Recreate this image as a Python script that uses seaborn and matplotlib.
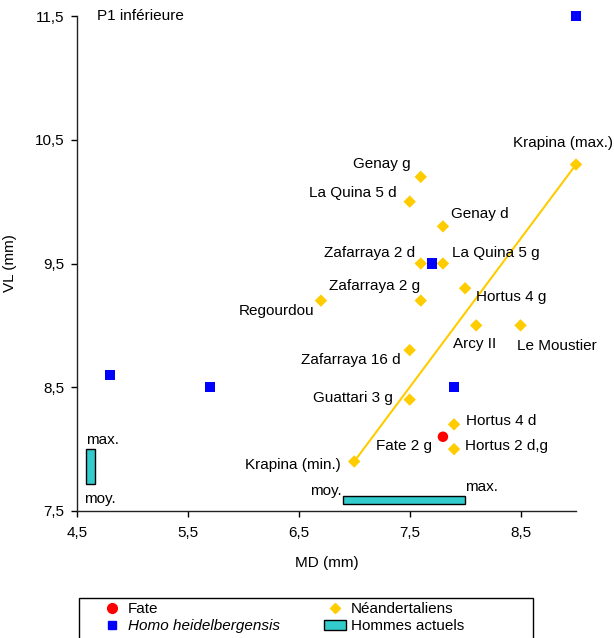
import matplotlib
matplotlib.use("Agg")
import matplotlib.pyplot as plt
import seaborn as sns
import pandas as pd
from matplotlib.lines import Line2D
from matplotlib.patches import Patch, Rectangle

# Néandertaliens
nea_labels = ['Genay g', 'La Quina 5 d', 'Genay d', 'Zafarraya 2 d', 'La Quina 5 g',
              'Hortus 4 g', 'Zafarraya 2 g', 'Regourdou', 'Arcy II', 'Le Moustier',
              'Zafarraya 16 d', 'Guattari 3 g', 'Hortus 4 d', 'Hortus 2 d,g',
              'Krapina (min.)', 'Krapina (max.)']
nea_md = [7.6, 7.5, 7.8, 7.6, 7.8, 8.0, 7.6, 6.7, 8.1, 8.5, 7.5, 7.5, 7.9, 7.9, 7.0, 9.0]
nea_vl = [10.2, 10.0, 9.8, 9.5, 9.5, 9.3, 9.2, 9.2, 9.0, 9.0, 8.8, 8.4, 8.2, 8.0, 7.9, 10.3]

# Fate
fate_label = ['Fate 2 g']
fate_md = [7.8]
fate_vl = [8.1]

# Homo heidelbergensis
hh_md = [9.0, 4.8, 5.7, 7.7, 7.9]
hh_vl = [11.5, 8.6, 8.5, 9.5, 8.5]

# Hommes actuels (moy., max.)
ha_md = [6.9, 8.0]
ha_vl = [7.72, 8.0]

x_ticks = [4.5, 5.5, 6.5, 7.5, 8.5]
x_ticklabels = ['4,5', '5,5', '6,5', '7,5', '8,5']
y_ticks = [7.5, 8.5, 9.5, 10.5, 11.5]
y_ticklabels = ['7,5', '8,5', '9,5', '10,5', '11,5']

# label offsets in pixels (dx, dy up, ha)
offsets = {
    'Genay g': (-10, 13, 'right'),
    'La Quina 5 d': (-13, 9, 'right'),
    'Genay d': (8, 12, 'left'),
    'Zafarraya 2 d': (-6, 10, 'right'),
    'La Quina 5 g': (9, 10, 'left'),
    'Hortus 4 g': (11, -9, 'left'),
    'Zafarraya 2 g': (-1, 15, 'right'),
    'Regourdou': (-7, -10, 'right'),
    'Arcy II': (-2, -19, 'center'),
    'Le Moustier': (-4, -21, 'left'),
    'Zafarraya 16 d': (-9, -10, 'right'),
    'Guattari 3 g': (-17, 2, 'right'),
    'Hortus 4 d': (12, 3, 'left'),
    'Hortus 2 d,g': (11, 3, 'left'),
    'Krapina (min.)': (-13, -4, 'right'),
    'Krapina (max.)': (-13, 21, 'center'),
    'Fate 2 g': (-11, -9, 'right'),
}

YELLOW = '#FFCC00'
BLUE = '#0000FF'
RED = '#FF0000'
TEAL = '#33CCCC'
FS = 11

sns.set_style('white')
plt.rcParams['font.family'] = ['Liberation Sans', 'DejaVu Sans']
plt.rcParams['font.size'] = FS
plt.rcParams['text.color'] = 'black'
plt.rcParams['axes.labelcolor'] = 'black'

fig = plt.figure(figsize=(6.14, 6.38), dpi=100)
ax = fig.add_axes([77 / 614, 1 - 511 / 638, 499 / 614, 495 / 638])

nea = pd.DataFrame({'MD': nea_md, 'VL': nea_vl, 'label': nea_labels})
hh = pd.DataFrame({'MD': hh_md, 'VL': hh_vl})
fate = pd.DataFrame({'MD': fate_md, 'VL': fate_vl, 'label': fate_label})

# Krapina min - max line
kmin = nea[nea['label'] == 'Krapina (min.)'].iloc[0]
kmax = nea[nea['label'] == 'Krapina (max.)'].iloc[0]
sns.lineplot(x=[kmin.MD, kmax.MD], y=[kmin.VL, kmax.VL], color=YELLOW, lw=1.5, ax=ax, zorder=2)

# Hommes actuels bars
ax.barh(7.59, ha_md[1] - ha_md[0], left=ha_md[0], height=0.06, color=TEAL,
        edgecolor='black', lw=1, zorder=2)
ax.bar(4.62, ha_vl[1] - ha_vl[0], bottom=ha_vl[0], width=0.078, color=TEAL,
       edgecolor='black', lw=1, zorder=2)
ax.annotate('moy.', (ha_md[0], 7.59), xytext=(-1, 9), textcoords='offset pixels',
            ha='right', va='center')
ax.annotate('max.', (ha_md[1], 7.59), xytext=(0, 13), textcoords='offset pixels',
            ha='left', va='center')
ax.annotate('max.', (4.582, ha_vl[1]), xytext=(0, 9), textcoords='offset pixels',
            ha='left', va='center')
ax.annotate('moy.', (4.582, ha_vl[0]), xytext=(-2, -15), textcoords='offset pixels',
            ha='left', va='center')

sns.scatterplot(data=nea, x='MD', y='VL', marker='D', s=40, color=YELLOW,
                edgecolor='none', ax=ax, zorder=3, clip_on=False)
sns.scatterplot(data=hh, x='MD', y='VL', marker='s', s=52, color=BLUE,
                edgecolor='none', ax=ax, zorder=3, clip_on=False)
sns.scatterplot(data=fate, x='MD', y='VL', marker='o', s=57, color=RED,
                edgecolor='none', ax=ax, zorder=4, clip_on=False)

for df in (nea, fate):
    for _, r in df.iterrows():
        dx, dy, ha = offsets[r['label']]
        ax.annotate(r['label'], (r['MD'], r['VL']), xytext=(dx, dy),
                    textcoords='offset pixels', ha=ha, va='center',
                    annotation_clip=False)

ax.text(0.04, 1.0, 'P1 inférieure', transform=ax.transAxes, ha='left', va='center')

ax.set_xlim(4.5, 9.0)
ax.set_ylim(7.5, 11.5)
ax.set_xticks(x_ticks, x_ticklabels)
ax.set_yticks(y_ticks, y_ticklabels)
ax.set_xlabel('MD (mm)', fontsize=FS, labelpad=11)
ax.set_ylabel('VL (mm)', fontsize=FS, labelpad=13)
ax.tick_params(axis='both', direction='out', length=4, width=1, colors='black',
               labelsize=FS, pad=5, bottom=True, left=True)
ax.tick_params(axis='x', pad=7)
for side in ('top', 'right'):
    ax.spines[side].set_visible(False)
for side in ('left', 'bottom'):
    ax.spines[side].set_color('#222222')
    ax.spines[side].set_linewidth(1)

handles = [
    Line2D([], [], marker='o', ls='none', color=RED, markersize=7),
    Line2D([], [], marker='s', ls='none', color=BLUE, markersize=5.5),
    Line2D([], [], marker='D', ls='none', color=YELLOW, markersize=5.5),
    Patch(facecolor=TEAL, edgecolor='black', lw=1),
]
labels = ['Fate', 'Homo heidelbergensis', 'Néandertaliens', 'Hommes actuels']
leg = fig.legend(handles, labels, ncol=2, loc='upper left', frameon=False,
                 bbox_to_anchor=(101 / 614, 1 - 602 / 638), fontsize=FS,
                 handlelength=1.45, handleheight=0.65, handletextpad=0.3,
                 columnspacing=2.9, labelspacing=0.2, borderpad=0, borderaxespad=0)
leg.get_texts()[1].set_style('italic')
fig.patches.append(Rectangle((79 / 614, -0.01), 454 / 614, 1 - 598 / 638 + 0.01,
                             transform=fig.transFigure, fill=False,
                             edgecolor='black', lw=1))

fig.savefig('out.png', dpi=100)
